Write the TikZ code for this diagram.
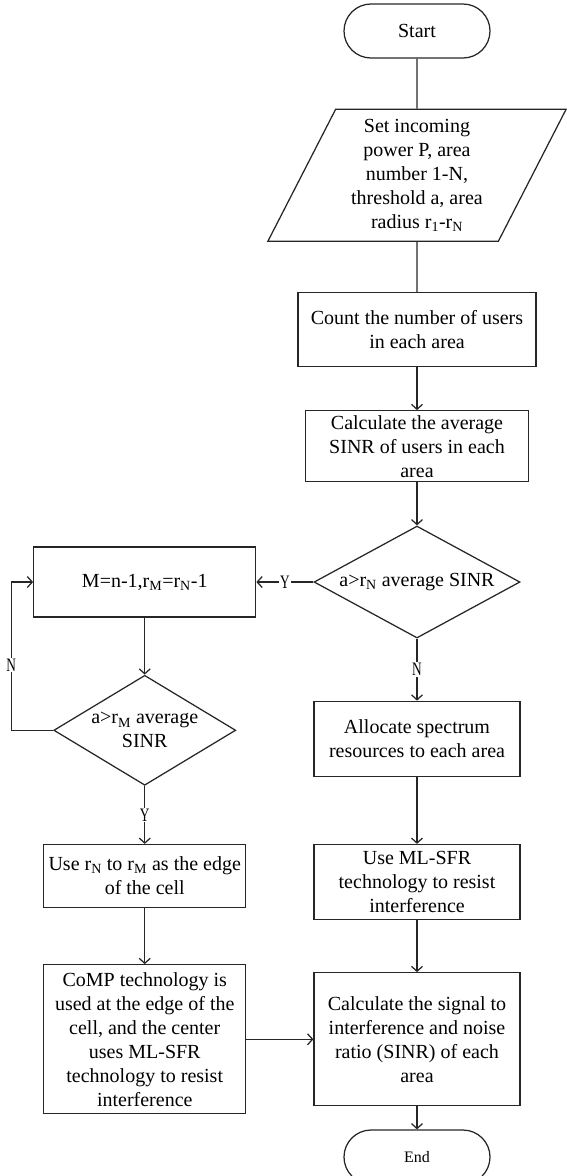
\documentclass[tikz,border=0pt]{standalone}
\usepackage{fontspec}
\setmainfont{Liberation Serif}
\usepackage{graphicx}
\usetikzlibrary{positioning, shapes.geometric, arrows.meta}
\tikzset{dbox/.style={draw=black!85, line width=1.25pt, inner sep=0pt, align=center, minimum width=206pt, font=\fontsize{20}{24}\selectfont}}
\tikzset{dterm/.style={draw=black!85, line width=1.25pt, rounded corners=27pt, minimum width=146pt, minimum height=54pt}}
\tikzset{ddec/.style={diamond, aspect=1.8, draw=black!85, line width=1.25pt, inner sep=0pt, align=center, font=\fontsize{20}{24}\selectfont}}
\tikzset{dio/.style={trapezium, trapezium left angle=64, trapezium right angle=116, trapezium stretches=true, draw=black!85, line width=1.25pt, inner sep=0pt, align=center, font=\fontsize{20}{24}\selectfont}}
\tikzset{arr/.style={draw=black!85, line width=1.25pt, -{Straight Barb[length=5pt, width=11pt]}}}
\tikzset{arr0/.style={draw=black!85, line width=1.25pt}}
\tikzset{lbl/.style={fill=white, inner sep=1pt, font=\fontsize{19}{19}\selectfont}}
\newcommand{\narrowlbl}[1]{\scalebox{0.7}[1]{#1}}

\begin{document}
\begin{tikzpicture}[x=1pt, y=-1pt]
	\useasboundingbox (0,0) rectangle (566,1176);
	% right column
	\node[dterm, font=\fontsize{20}{24}\selectfont] (start) at (417,31) {Start};
	\node[dio, minimum width=299pt, minimum height=132pt, below=50pt of start] (input) {Set incoming\\power P, area\\number 1-N,\\threshold a, area\\radius r\textsubscript{1}-r\textsubscript{N}};
	\node[dbox, minimum width=238pt, minimum height=74pt, below=50pt of input] (count) {Count the number of users\\in each area};
	\node[dbox, minimum width=223pt, minimum height=71pt, below=43pt of count] (avg) {Calculate the average\\SINR of users in each\\area};
	\node[ddec, minimum width=206pt, minimum height=112pt, below=43pt of avg] (chkN) {a>r\textsubscript{N} average SINR};
	\node[dbox, minimum height=75pt, below=62pt of chkN] (alloc) {Allocate spectrum\\resources to each area};
	\node[dbox, minimum height=75pt, below=67pt of alloc] (mlsfr) {Use ML-SFR\\technology to resist\\interference};
	\node[dbox, minimum height=133pt, below=52pt of mlsfr] (sinr) {Calculate the signal to\\interference and noise\\ratio (SINR) of each\\area};
	\node[dterm, font=\fontsize{16}{20}\selectfont, below=23pt of sinr] (end) {End};
	% left column
	\node[dbox, minimum width=222pt, minimum height=70pt, left=57pt of chkN] (upd) {M=n-1,r\textsubscript{M}=r\textsubscript{N}-1};
	\node[ddec, minimum width=182pt, minimum height=110pt, below=57pt of upd] (chkM) {a>r\textsubscript{M} average\\SINR};
	\node[dbox, minimum width=202pt, minimum height=63pt, below=58pt of chkM] (edge) {Use r\textsubscript{N} to r\textsubscript{M} as the edge\\of the cell};
	\node[dbox, minimum width=202pt, minimum height=149pt, below=56pt of edge] (comp) {CoMP technology is\\used at the edge of the\\cell, and the center\\uses ML-SFR\\technology to resist\\interference};
	\coordinate[left=42pt of chkM.west] (loop);
	%
	\draw[arr0] (start) -- (input);
	\draw[arr0] (input) -- (count);
	\draw[arr] (count) -- (avg);
	\draw[arr] (avg) -- (chkN);
	\draw[arr] (chkN) -- node[lbl]{\narrowlbl{Y}} (upd);
	\draw[arr] (chkN) -- node[lbl]{\narrowlbl{N}} (alloc);
	\draw[arr] (alloc) -- (mlsfr);
	\draw[arr] (mlsfr) -- (sinr);
	\draw[arr] (sinr) -- (end);
	\draw[arr] (upd) -- (chkM);
	\draw[arr] (chkM) -- node[lbl]{\narrowlbl{Y}} (edge);
	\draw[arr] (chkM.west) -- (loop) |- node[lbl, pos=0.22]{\narrowlbl{N}} (upd.west);
	\draw[arr] (edge) -- (comp);
	\draw[arr] (comp) -- (sinr);
\end{tikzpicture}
\end{document}
